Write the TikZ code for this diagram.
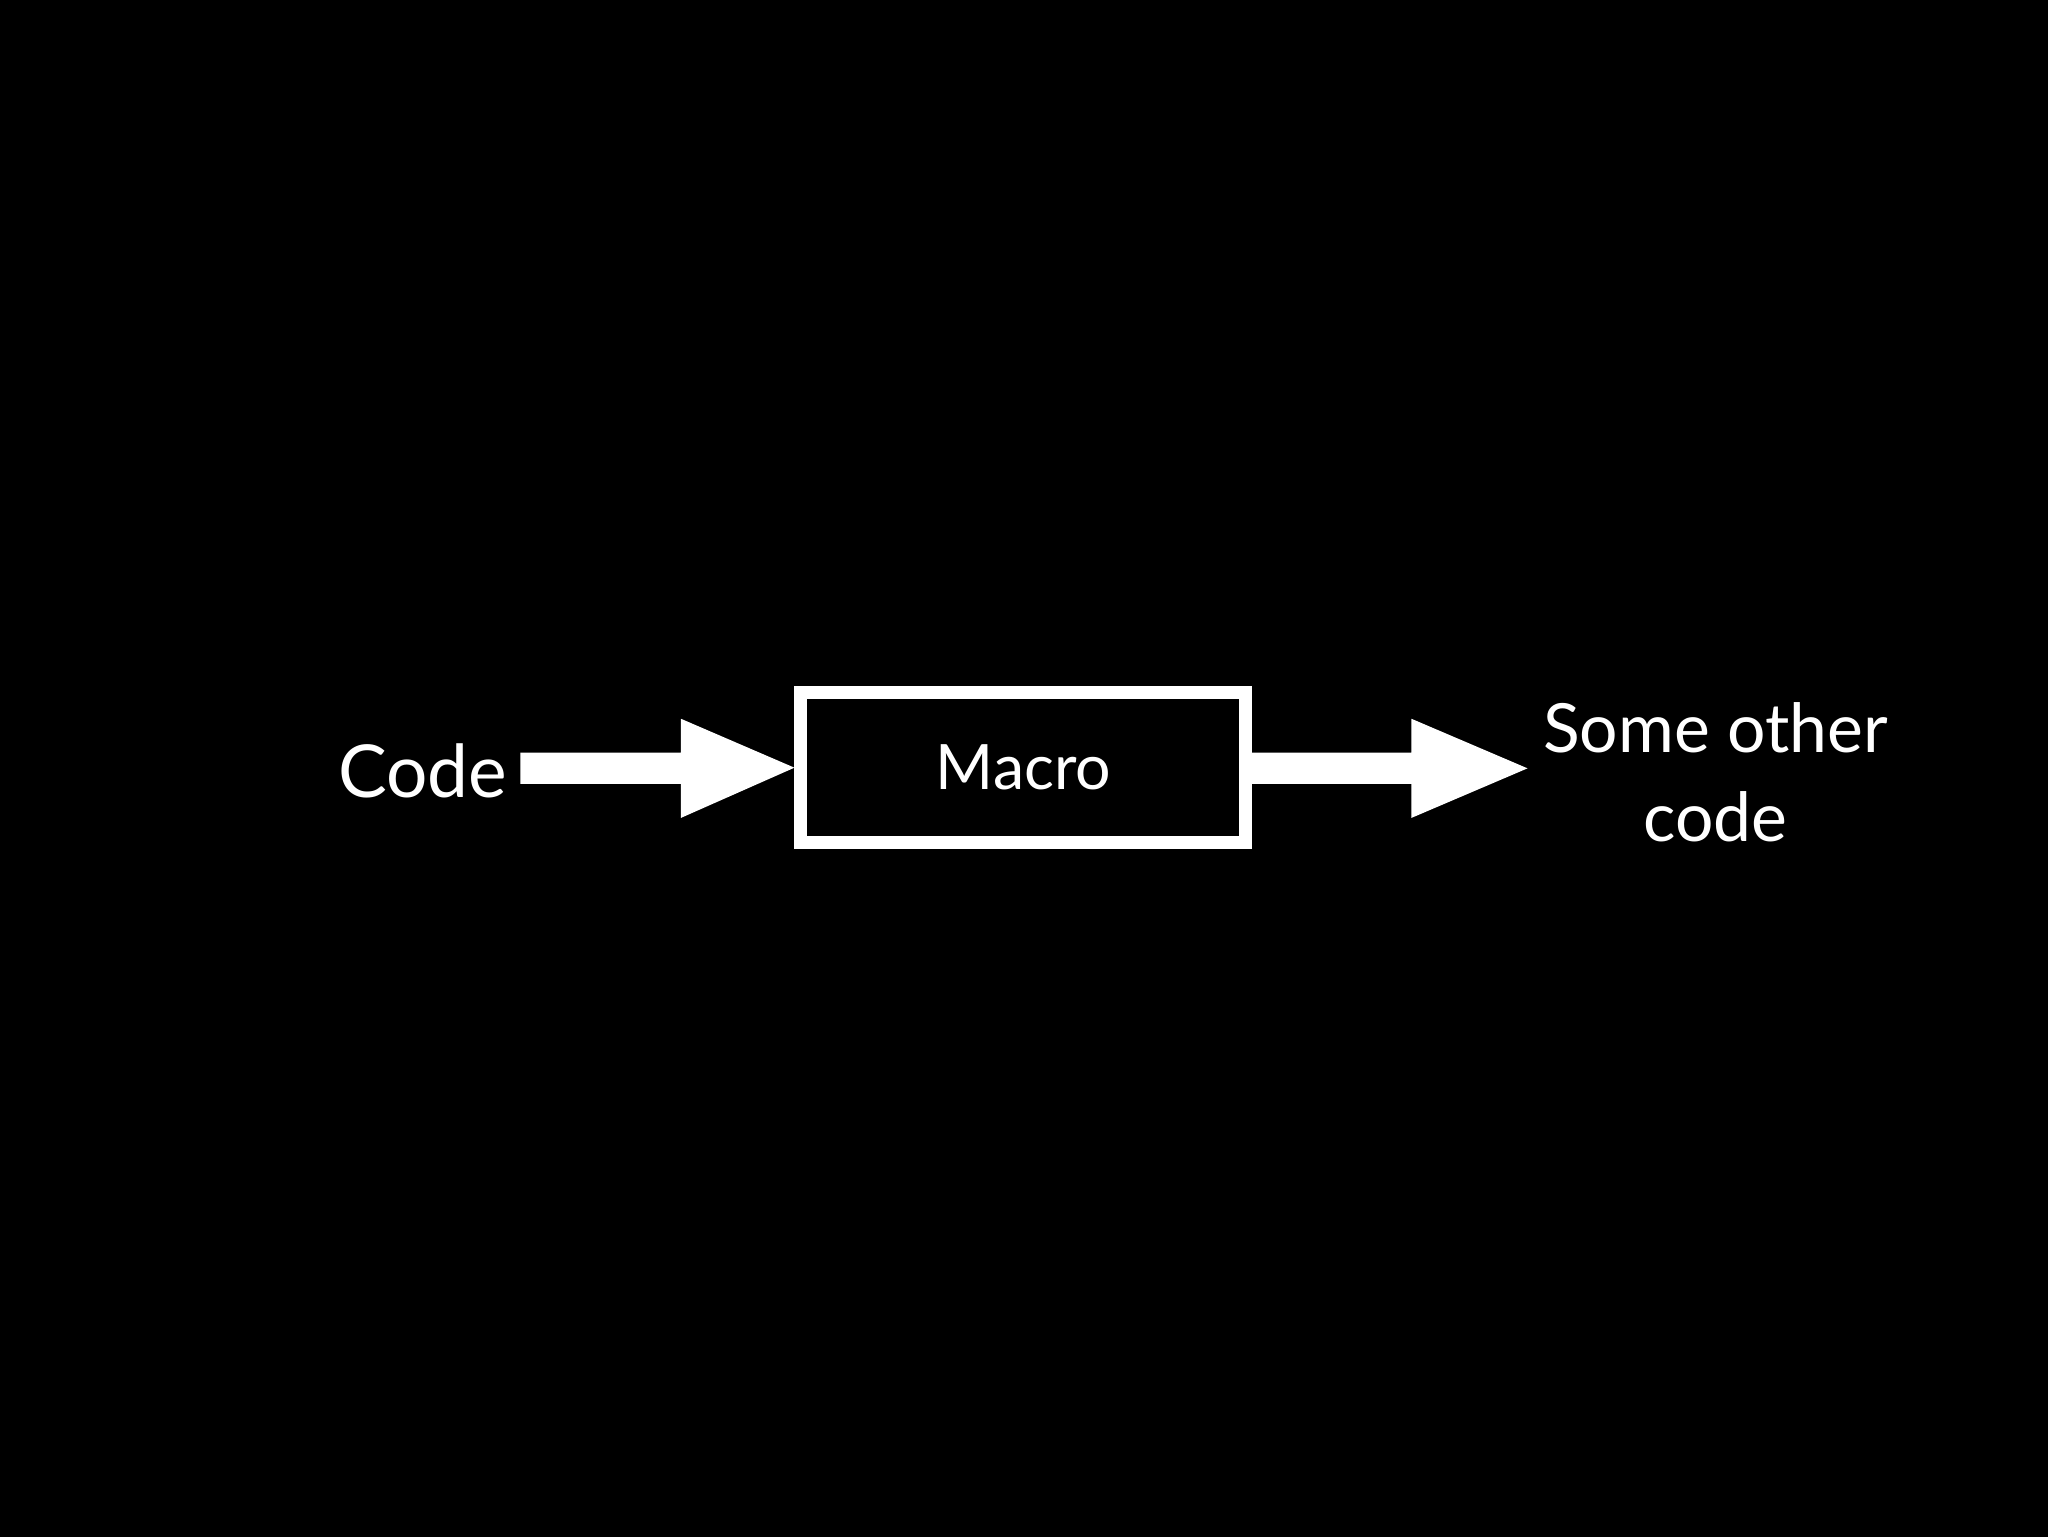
\documentclass[tikz,border=0pt]{standalone}
\usepackage{fontspec}
\setmainfont{Lato}
\begin{document}
\begin{tikzpicture}[x=1pt,y=-1pt,
  lbl/.style={text=white,inner sep=0pt,align=center},
  bigarrow/.style={fill=white}]
\fill[black] (-1,-1) rectangle (1569,1177);
\useasboundingbox (0,0) rectangle (1568,1176);
\node[draw=white,line width=10pt,minimum width=341pt,minimum height=115pt,inner sep=0pt,
  font=\fontsize{48}{56}\selectfont,text=white] (macro) at (783.5,587.5) {Macro};
\node[lbl,font=\fontsize{56}{60}\selectfont,anchor=east] (code) at (388,590) {Code};
\node[lbl,font=\fontsize{52}{68}\selectfont] (other) at (1314,591) {Some other\\code};
\coordinate (a1) at ([xshift=10pt]code.east);
\coordinate (a2) at (macro.west);
\coordinate (b1) at (macro.east);
\coordinate (b2) at (1170,588);
\fill[bigarrow] (a1|-0,576) -- (521,576) -- (521,550) -- (a2) -- (521,626) -- (521,600) -- (a1|-0,600) -- cycle;
\fill[bigarrow] ([xshift=-5pt]b1|-0,576) -- (1081,576) -- (1081,550) -- (b2) -- (1081,626) -- (1081,600) -- ([xshift=-5pt]b1|-0,600) -- cycle;
\end{tikzpicture}
\end{document}
